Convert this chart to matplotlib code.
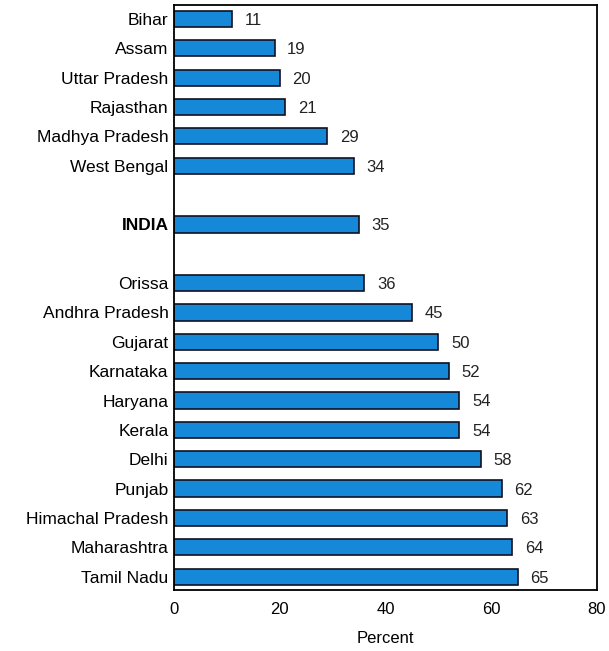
import numpy as np
import matplotlib.pyplot as plt

plt.rcParams['font.family'] = ['Liberation Sans', 'DejaVu Sans']

states = ['Bihar', 'Assam', 'Uttar Pradesh', 'Rajasthan', 'Madhya Pradesh',
          'West Bengal', 'INDIA', 'Orissa', 'Andhra Pradesh', 'Gujarat',
          'Karnataka', 'Haryana', 'Kerala', 'Delhi', 'Punjab',
          'Himachal Pradesh', 'Maharashtra', 'Tamil Nadu']
values = [11, 19, 20, 21, 29, 34, 35, 36, 45, 50, 52, 54, 54, 58, 62, 63, 64, 65]
# row slots, with blank rows around INDIA
slots = [0, 1, 2, 3, 4, 5, 7, 9, 10, 11, 12, 13, 14, 15, 16, 17, 18, 19]
x_ticks = [0, 20, 40, 60, 80]

fig = plt.figure(figsize=(6.09, 6.51), dpi=100)
ax = fig.add_axes([0.286, 0.094, 0.694, 0.898])

ax.barh(slots, values, height=0.55, color='#1589d8', edgecolor='#111122', linewidth=1.2)

for y, v in zip(slots, values):
    ax.text(v + 2.4, y + 0.05, str(v), va='center', ha='left', fontsize=12, color='#222222')

ax.set_xlim(0, 80)
ax.set_ylim(19.45, -0.47)
ax.set_yticks(slots)
ax.set_yticklabels(states, fontsize=12.5)
for lbl in ax.get_yticklabels():
    if lbl.get_text() == 'INDIA':
        lbl.set_fontweight('bold')
ax.set_xticks(x_ticks)
ax.set_xticklabels([str(t) for t in x_ticks], fontsize=12)
ax.tick_params(axis='y', length=0, pad=4)
ax.tick_params(axis='x', length=0, pad=9)
ax.set_xlabel('Percent', fontsize=12, labelpad=10)
for s in ax.spines.values():
    s.set_linewidth(1.3)

fig.savefig('out.png', dpi=100)
